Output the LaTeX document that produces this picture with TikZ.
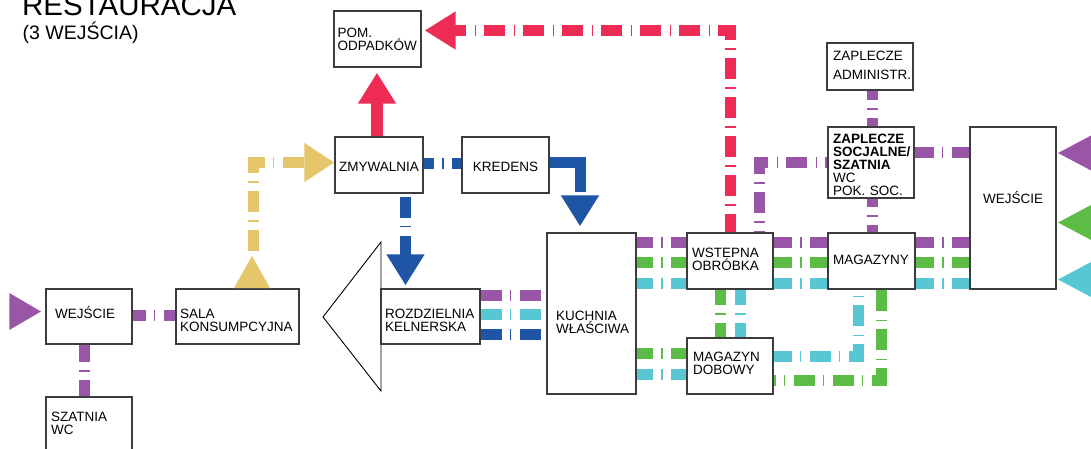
\documentclass[tikz,border=0pt]{standalone}
\usepackage{fontspec}
\setmainfont{Liberation Sans}
\usetikzlibrary{arrows.meta,fit,calc}
\definecolor{cred}{HTML}{EE2B54}
\definecolor{cpurple}{HTML}{9A56A6}
\definecolor{cgreen}{HTML}{5CBC46}
\definecolor{ccyan}{HTML}{57C7D3}
\definecolor{cblue}{HTML}{1E55A4}
\definecolor{cyellow}{HTML}{E6C66A}
\definecolor{edge}{HTML}{3C3C3C}
\begin{document}
\begin{tikzpicture}[x=1pt,y=-1pt,
  box/.style={draw=edge,line width=1.3pt,inner sep=0pt},
  lbl/.style={inner sep=0pt,anchor=base west,text width=140pt,align=left,
    font=\fontsize{13.5}{13}\selectfont},
  clbl/.style={inner sep=0pt,anchor=base,font=\fontsize{13.5}{13}\selectfont},
  flow/.style={line width=11pt,dash pattern=on 21pt off 8pt on 1.5pt off 8.5pt},
  ph/.style={dash phase=#1pt},
  pflow/.style={flow,draw=cpurple},
  gflow/.style={flow,draw=cgreen},
  cflow/.style={flow,draw=ccyan},
  bflow/.style={flow,draw=cblue},
  yflow/.style={flow,draw=cyellow},
  rflow/.style={flow,draw=cred},
  head/.style={-{Triangle[width=36pt,length=31pt]}},
]
\useasboundingbox (0,0) rectangle (1091,448);
\clip (0,0) rectangle (1091,448);

% title
\node[inner sep=0pt,anchor=base west,font=\fontsize{29.5}{30}\selectfont] (title) at (22,15) {RESTAURACJA};
\node[inner sep=0pt,anchor=base west,font=\fontsize{19.5}{20}\selectfont] (subtitle) at (22.5,39.3) {(3 WEJŚCIA)};

% outline arrow from the waiters' station towards the dining room
\draw[line width=0.9pt,fill=white] (381,242) -- (323,317) -- (381,391) -- cycle;

% rooms
\node[box,fit={(334,11) (421,67)}] (pom) {};
\node[box,fit={(335,137) (423,193)}] (zmyw) {};
\node[box,fit={(462,137) (549,193)}] (kred) {};
\node[box,fit={(827,43) (913,90)}] (admin) {};
\node[box,fit={(828,127) (914,198)}] (socj) {};
\node[box,fit={(970,127) (1056,289)}] (wej2) {};
\node[box,fit={(828,233) (915,289)}] (mag) {};
\node[box,fit={(687,233) (773,289)}] (wst) {};
\node[box,fit={(547,233) (636,394)}] (kuch) {};
\node[box,fit={(687,338) (773,394)}] (dob) {};
\node[box,fit={(46,289) (132,344)}] (wej1) {};
\node[box,fit={(176,289) (299,344)}] (sala) {};
\node[box,fit={(46,397) (132,470)}] (szat) {};
\node[box,fit={(381,289) (480,344)}] (rozdz) {};

% room labels
\node[lbl] (pom-t) at (337.3,37.3) {POM.\\ODPADKÓW};
\node[clbl] (zmyw-t) at (379,171.6) {ZMYWALNIA};
\node[clbl] (kred-t) at (505.5,171.6) {KREDENS};
\node[lbl,font=\fontsize{13.5}{19}\selectfont] (admin-t) at (833,60) {ZAPLECZE\\ADMINISTR.};
\node[lbl] (socj-t) at (833,143.3) {{\bfseries ZAPLECZE\\SOCJALNE/\\SZATNIA}\\WC\\POK. SOC.};
\node[clbl] (wej2-t) at (1013,203) {WEJŚCIE};
\node[clbl] (mag-t) at (871,264) {MAGAZYNY};
\node[lbl] (wst-t) at (692,257) {WSTEPNA\\OBRÓBKA};
\node[lbl] (kuch-t) at (556,320.7) {KUCHNIA\\WŁAŚCIWA};
\node[lbl] (dob-t) at (693,361.7) {MAGAZYN\\DOBOWY};
\node[lbl] (wej1-t) at (55,318.3) {WEJŚCIE};
\node[lbl] (sala-t) at (180,318.3) {SALA\\KONSUMPCYJNA};
\node[lbl] (szat-t) at (51,421.7) {SZATNIA\\WC};
\node[lbl] (rozdz-t) at (385,318.7) {ROZDZIELNIA\\KELNERSKA};

% purple: guests and staff
\draw[pflow,ph=7.75] (wej1.east |- 0,315.5) -- (sala.west |- 0,315.5);
\draw[pflow,ph=3.25] (wej1.south -| 84.5,0) -- (szat.north -| 84.5,0);
\draw[pflow] (rozdz.east |- 0,295) -- (kuch.west |- 0,295);
\draw[pflow,ph=4.25] (kuch.east |- 0,242) -- (wst.west |- 0,242);
\draw[pflow,ph=2.25] (wst.east |- 0,242) -- (mag.west |- 0,242);
\draw[pflow,ph=2.25] (mag.east |- 0,242) -- (wej2.west |- 0,242);
\draw[pflow,ph=11.25] (admin.south -| 872,0) -- (socj.north -| 872,0);
\draw[pflow,ph=12.25] (socj.south -| 872,0) -- (mag.north -| 872,0);
\draw[pflow,ph=1.75] (socj.east |- 0,152) -- (wej2.west |- 0,152);
\draw[pflow,ph=19] (socj.west |- 0,162.5) -| (wst.north -| 759,0);

% green: raw goods
\draw[gflow,ph=4.25] (kuch.east |- 0,262.5) -- (wst.west |- 0,262.5);
\draw[gflow,ph=2.25] (wst.east |- 0,262.5) -- (mag.west |- 0,262.5);
\draw[gflow,ph=2.25] (mag.east |- 0,262.5) -- (wej2.west |- 0,262.5);
\draw[gflow,ph=5.25] (wst.south -| 720,0) -- (dob.north -| 720,0);
\draw[gflow,ph=4.25] (kuch.east |- 0,353) -- (dob.west |- 0,353);
\draw[gflow,ph=19] (dob.east |- 0,380) -| (mag.south -| 881,0);

% cyan: processed goods
\draw[cflow,ph=4.25] (kuch.east |- 0,283) -- (wst.west |- 0,283);
\draw[cflow,ph=2.25] (wst.east |- 0,283) -- (mag.west |- 0,283);
\draw[cflow,ph=2.25] (mag.east |- 0,283) -- (wej2.west |- 0,283);
\draw[cflow,ph=5.25] (wst.south -| 740,0) -- (dob.north -| 740,0);
\draw[cflow,ph=4.25] (kuch.east |- 0,374) -- (dob.west |- 0,374);
\draw[cflow,ph=3] (dob.east |- 0,356) -| (mag.south -| 858,0);
\draw[cflow] (rozdz.east |- 0,314) -- (kuch.west |- 0,314);

% blue: clean dishes
\draw[bflow] (rozdz.east |- 0,334.5) -- (kuch.west |- 0,334.5);
\draw[bflow,ph=10.25] (zmyw.east |- 0,163) -- (kred.west |- 0,163);
\draw[bflow,dash pattern=on 60pt off 40pt,head,shorten >=6pt] (kred.east |- 0,162.5) -| (kuch.north -| 580,0);
\draw[bflow,ph=35.75,head,shorten >=3pt] (zmyw.south -| 405.5,0) -- (rozdz.north -| 405.5,0);

% yellow: dirty dishes from the dining room
\coordinate (ytail) at (253.5,256);
\fill[cyellow] (234,288) -- (270,288) -- (252,256) -- cycle;
\draw[yflow,ph=33.5,-{Triangle[width=37pt,length=30pt]}] (ytail) |- (zmyw.west |- 0,162.5);

% red: waste
\draw[line width=12pt,draw=cred,head,shorten >=5pt] (zmyw.north -| 377,0) -- (pom.south -| 377,0);
\draw[rflow,ph=2.5,head,shorten >=3pt] (wst.north -| 730,0) |- (pom.east |- 0,30.5);

% entrances
\fill[cpurple] (9.3,293) -- (41,311.5) -- (9.3,330) -- cycle;
\fill[cpurple] (1092,135) -- (1058,153) -- (1092,171) -- cycle;
\fill[cgreen] (1092,204.5) -- (1058,222.5) -- (1092,240.5) -- cycle;
\fill[ccyan] (1092,261.5) -- (1058,279.5) -- (1092,297.5) -- cycle;
\end{tikzpicture}
\end{document}
